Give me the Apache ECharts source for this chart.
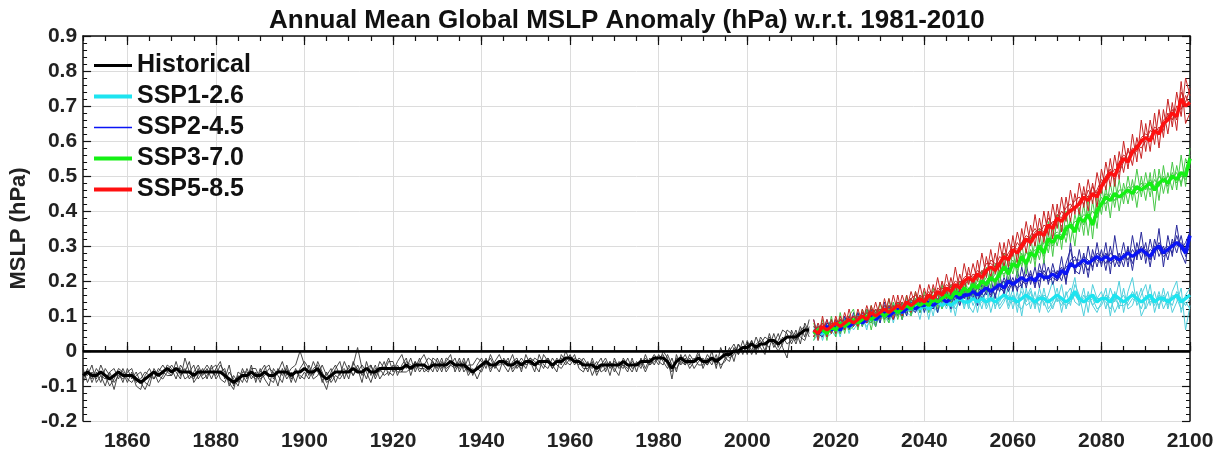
<!DOCTYPE html>
<html>
<head>
<meta charset="utf-8">
<title>Annual Mean Global MSLP Anomaly</title>
<script src="https://cdn.jsdelivr.net/npm/echarts@6/dist/echarts.min.js"></script>
<style>
  html, body { margin: 0; padding: 0; background: #fff; }
  #chart { width: 1225px; height: 457px; }
</style>
</head>
<body>
<div id="chart"></div>
<script>
// all values below are in hundredths of hPa (divided by 100 when plotted)
const HIST_START = 1850;
const SSP_START = 2015;

const xLabelYears = [1860, 1880, 1900, 1920, 1940, 1960, 1980, 2000, 2020, 2040, 2060, 2080, 2100];

// Historical ensemble mean, 1850-2014
const histMean = [
  -7,-6,-7,-7,-6,-7,-8,-7,-6,-7,
  -7,-7,-8,-9,-8,-7,-6,-7,-6,-5,
  -6,-5,-6,-6,-6,-7,-6,-6,-6,-6,
  -6,-6,-7,-8,-9,-8,-7,-7,-6,-7,
  -7,-6,-7,-7,-6,-6,-6,-7,-6,-6,
  -5,-6,-6,-5,-7,-8,-7,-6,-6,-6,
  -6,-5,-6,-6,-5,-6,-6,-5,-5,-5,
  -5,-5,-5,-4,-5,-4,-4,-4,-5,-4,
  -4,-4,-4,-3,-4,-4,-4,-5,-6,-5,
  -4,-3,-4,-4,-3,-3,-4,-4,-3,-4,
  -3,-3,-4,-3,-3,-3,-4,-3,-3,-2,
  -2,-3,-3,-4,-4,-4,-5,-4,-4,-4,
  -4,-4,-3,-4,-4,-4,-3,-3,-3,-2,
  -2,-2,-3,-5,-3,-2,-3,-3,-3,-2,
  -3,-3,-2,-3,-2,-1,-1,0,0,1,
  1,2,1,2,2,3,3,2,3,4,
  4,4,5,6,6
];

// Historical individual members
const histMembers = [
  [
    -5,-9,-6,-8,-4,-7,-10,-8,-5,-6,
    -9,-6,-10,-11,-7,-5,-8,-6,-4,-6,
    -7,-3,-7,-5,-8,-6,-4,-7,-5,-8,
    -5,-3,-8,-4,-10,-7,-9,-5,-8,-6,
    -9,-5,-4,-8,-6,-3,-7,-5,-4,0,
    -4,-7,-3,-6,-8,-11,-6,-4,-7,-3,
    -6,-4,1,-5,-8,-4,-7,-3,-5,-2,
    -6,-3,-1,-5,-2,-6,-3,-1,-4,-6,
    -2,-5,-3,-1,-6,-3,-5,-2,-7,-4,
    -2,-5,-1,-4,-6,-2,-4,-1,-5,-3,
    -5,-2,-4,-6,-1,-3,-5,-2,-4,0,
    -3,-1,-5,-6,-3,-7,-4,-2,-6,-3,
    -5,-7,-2,-4,-6,-3,-5,-1,-4,-2,
    -4,0,-2,-8,-1,-4,-2,-5,-3,0,
    -5,-2,-4,-1,-5,-2,1,-3,2,-1,
    3,0,4,1,-1,4,2,5,1,-2,
    6,3,7,4,9
  ],
  [
    -8,-5,-9,-6,-9,-5,-7,-11,-6,-9,
    -5,-8,-6,-9,-11,-8,-6,-9,-7,-4,
    -5,-8,-4,-6,-3,-9,-7,-5,-8,-4,
    -8,-6,-5,-10,-7,-9,-5,-8,-4,-9,
    -5,-8,-10,-5,-7,-9,-4,-8,-6,-7,
    -8,-4,-7,-3,-6,-9,-8,-5,-3,-8,
    -4,-7,-5,-9,-3,-7,-4,-8,-6,-3,
    -3,-7,-4,-2,-7,-3,-6,-4,-2,-3,
    -6,-3,-5,-4,-2,-6,-3,-7,-5,-8,
    -5,-2,-6,-3,-1,-4,-6,-3,-2,-6,
    -1,-4,-2,-3,-5,-2,-4,-6,-1,-3,
    -1,-4,-2,-3,-6,-2,-6,-5,-3,-7,
    -2,-5,-4,-6,-2,-6,-2,-5,-2,-4,
    -1,-3,-5,-2,-6,-1,-4,-2,-5,-3,
    -2,-4,0,-5,1,-2,-3,1,-1,3,
    -1,3,0,4,2,1,5,1,4,2,
    3,6,2,8,5
  ],
  [
    -6,-7,-4,-9,-7,-8,-6,-5,-8,-5,
    -8,-9,-7,-6,-9,-10,-5,-7,-8,-6,
    -4,-6,-8,-2,-6,-4,-8,-6,-4,-6,
    -7,-4,-6,-9,-11,-6,-7,-9,-5,-5,
    -8,-7,-5,-6,-10,-5,-8,-6,-9,-5,
    -3,-5,-8,-7,-4,-7,-5,-9,-6,-5,
    -8,-3,-6,-4,-6,-9,-5,-6,-3,-7,
    -4,-6,-6,-3,-4,-5,-2,-6,-5,-3,
    -5,-2,-6,-4,-5,-2,-6,-4,-4,-2,
    -3,-4,-2,-5,-3,-4,-2,-6,-4,-2,
    -4,-3,-6,-1,-4,-5,-2,-4,-5,-3,
    -4,-2,-3,-5,-5,-3,-7,-4,-2,-5,
    -3,-4,-5,-2,-5,-4,-3,-6,-3,-1,
    -3,-4,-1,-4,-5,-3,-1,-4,-2,-4,
    -4,-1,-3,-2,-4,-3,0,2,-1,1,
    2,-1,2,3,0,5,1,3,6,5,
    2,5,4,3,7
  ],
  [
    -9,-6,-8,-5,-7,-10,-6,-9,-7,-8,
    -6,-5,-9,-8,-6,-7,-8,-5,-6,-7,
    -7,-5,-5,-8,-7,-8,-5,-8,-7,-5,
    -4,-8,-9,-6,-8,-10,-6,-6,-7,-8,
    -6,-4,-8,-9,-5,-7,-5,-9,-5,-8,
    -6,-8,-5,-4,-9,-6,-9,-7,-8,-6,
    -5,-7,-4,-7,-5,-4,-8,-5,-7,-6,
    -7,-4,-6,-6,-5,-3,-5,-5,-6,-2,
    -3,-6,-2,-3,-4,-5,-2,-6,-6,-5,
    -6,-3,-5,-4,-4,-3,-3,-5,-4,-5,
    -3,-2,-3,-4,-3,-2,-5,-3,-2,-4,
    -2,-3,-4,-2,-4,-5,-3,-6,-5,-3,
    -6,-3,-4,-5,-3,-4,-4,-2,-4,-3,
    -2,-1,-4,-6,-2,-3,-4,-1,-3,-1,
    -3,-4,-2,-4,-2,0,-2,-1,2,0,
    1,3,-1,2,4,3,2,0,2,6,
    5,2,6,7,4
  ]
];

// SSP1-2.6, 2015-2100
const ssp126Mean = [
  5,6,5,6,7, 6,7,8,7,8, 9,8,9,10,9, 10,11,10,11,12, 11,12,12,13,12,
  13,12,13,14,13, 14,13,14,15,14, 14,15,14,15,14, 15,14,15,16,15,
  15,14,15,16,15, 14,15,15,14,15, 16,15,14,15,17, 15,14,15,16,14,
  15,15,14,16,15, 14,15,16,15,14, 15,16,14,15,15, 14,15,16,14,15,
  16
];
const ssp126Members = [
  [4,8,3,7,9, 5,9,6,10,7, 11,7,12,8,11, 8,13,9,14,10, 14,10,15,11,16,
   11,15,10,17,12, 16,11,18,13,17, 12,18,11,17,13, 19,12,17,20,13,
   18,11,19,14,17, 12,18,13,16,20, 14,19,12,16,21, 13,18,11,19,15,
   17,12,18,14,20, 11,17,21,13,16, 19,13,17,12,18, 12,17,20,11,16, 18],
  [7,3,6,4,5, 8,4,10,5,9, 7,10,6,12,8, 12,9,13,8,14, 9,15,10,14,9,
   15,9,16,11,15, 12,16,10,17,12, 17,13,16,12,18, 11,16,12,14,18,
   12,17,10,18,12, 17,11,18,12,14, 18,11,17,13,19, 16,10,17,13,11,
   14,18,10,17,12, 18,12,13,17,10, 13,19,11,16,14, 17,11,14,18,6, 13],
  [6,7,4,8,6, 4,8,9,6,10, 10,8,11,9,7, 11,10,8,12,11, 10,13,11,12,14,
   12,14,13,11,16, 13,15,12,14,16, 13,11,15,17,12, 15,13,14,17,12,
   16,13,12,15,18, 13,16,14,11,13, 15,13,16,18,14, 13,16,14,15,12,
   13,16,15,11,14, 16,13,15,14,18, 12,15,13,17,12, 15,13,17,15,13, 15],
  [3,5,6,5,8, 7,5,7,9,6, 8,9,7,9,12, 9,12,11,10,13, 12,11,10,14,11,
   14,11,14,15,12, 15,12,13,16,13, 15,16,13,14,15, 14,16,13,15,16,
   14,15,17,13,14, 15,13,16,15,12, 16,14,13,14,16, 14,15,16,13,15,
   15,14,12,15,13, 13,14,17,15,12, 16,14,15,13,16, 13,16,15,12,14, 12]
];

// SSP2-4.5, 2015-2100
const ssp245Mean = [
  6,5,6,7,6, 7,6,8,7,8, 9,8,9,10,9, 10,11,10,11,12, 11,12,13,12,13,
  13,14,13,14,15, 14,15,16,15,16, 16,17,16,17,18, 17,18,19,18,20,
  19,20,21,20,21, 20,22,21,21,22, 21,23,22,25,24, 25,26,25,26,27,
  26,27,26,27,26, 27,28,27,28,29, 28,27,29,30,28, 29,30,31,30,28,
  33
];
const ssp245Members = [
  [9,4,7,6,9, 5,9,6,10,7, 11,7,12,9,12, 8,14,9,13,10, 14,10,15,12,16,
   11,16,12,17,13, 17,12,19,14,18, 14,20,13,19,16, 21,15,22,16,24,
   17,23,18,25,19, 24,18,26,19,25, 20,27,19,31,22, 29,22,30,23,31,
   24,31,22,33,25, 31,24,33,26,34, 25,32,26,35,24, 33,27,36,28,25, 35],
  [4,7,5,9,5, 9,5,10,6,11, 7,11,8,12,7, 12,9,13,10,14, 9,14,11,15,11,
   15,12,16,11,17, 13,17,14,18,15, 18,15,19,16,20, 15,20,17,21,18,
   21,17,24,18,23, 18,25,20,24,19, 23,20,25,29,23, 22,28,21,29,24,
   29,23,30,24,28, 24,30,23,31,26, 31,24,32,27,30, 26,32,28,33,27, 30],
  [7,6,8,5,6, 6,8,7,9,9, 8,10,9,8,11, 10,12,11,9,12, 12,11,14,13,12,
   14,13,12,15,14, 16,14,15,17,15, 17,16,18,15,17, 18,16,19,20,17,
   20,18,19,22,20, 21,20,23,21,23, 22,24,20,26,27, 24,27,26,24,28,
   27,25,28,27,24, 28,26,29,27,30, 27,29,28,31,29, 30,28,33,29,31, 34],
  [5,5,4,8,7, 8,6,9,8,7, 10,9,8,11,9, 11,10,9,13,11, 10,13,12,11,14,
   12,15,14,13,16, 13,16,17,13,17, 15,18,14,18,19, 16,19,18,17,21,
   18,21,20,19,22, 19,23,22,20,21, 20,22,24,25,26, 26,25,23,27,26,
   25,28,25,26,27, 26,29,25,29,28, 29,26,30,29,27, 28,31,30,31,29, 32]
];

// SSP3-7.0, 2015-2100
const ssp370Mean = [
  5,6,6,5,7, 6,8,7,8,9, 8,9,10,9,10, 11,10,11,12,11, 12,13,12,14,13,
  14,13,15,14,15, 16,15,17,16,18, 17,19,18,20,19, 21,20,22,24,22,
  25,24,27,25,28, 27,30,28,32,31, 33,32,35,36,34, 38,37,39,36,40,
  42,44,43,45,44, 45,46,45,47,46, 47,48,46,48,49, 48,50,49,51,50,
  55
];
const ssp370Members = [
  [8,4,9,3,10, 4,11,5,10,12, 6,12,8,13,7, 14,8,15,10,14, 9,16,10,17,11,
   17,11,18,12,19, 13,19,15,20,16, 21,16,22,17,24, 18,25,19,28,20,
   29,21,31,22,33, 24,35,25,37,27, 39,29,40,31,39, 34,42,33,43,35,
   47,40,48,41,49, 42,50,43,52,44, 51,44,52,43,53, 45,54,46,56,47, 58],
  [3,7,5,7,5, 8,5,9,6,7, 10,7,12,6,12, 9,12,8,14,9, 14,11,15,12,16,
   12,16,13,17,12, 18,13,19,14,20, 15,21,16,23,17, 24,18,25,21,26,
   22,28,24,29,25, 31,26,33,28,35, 30,36,31,38,30, 41,33,44,32,45,
   39,47,38,49,40, 48,42,49,41,50, 43,51,40,52,45, 51,46,53,47,55, 52],
  [6,5,7,6,8, 5,9,8,7,10, 9,8,11,10,9, 12,11,10,13,12, 11,14,13,12,15,
   15,14,13,16,14, 17,16,18,15,19, 18,17,20,19,21, 20,22,21,25,23,
   24,26,25,28,27, 29,28,31,30,33, 34,33,36,35,37, 37,39,38,40,38,
   42,45,44,43,46, 46,45,47,46,48, 46,49,47,50,48, 50,49,51,48,52, 56],
  [4,6,7,5,6, 7,7,6,9,8, 7,10,9,8,11, 10,9,12,11,10, 13,12,11,15,12,
   13,15,16,13,16, 15,17,16,18,17, 16,20,19,18,20, 22,19,23,22,24,
   26,23,28,24,29, 26,31,27,33,30, 32,35,33,37,35, 39,36,40,37,41,
   44,42,45,43,44, 44,47,46,45,47, 48,46,49,47,50, 47,51,48,50,49, 54]
];

// SSP5-8.5, 2015-2100
const ssp585Mean = [
  6,5,7,6,7, 8,7,8,9,8, 9,10,9,11,10, 11,12,11,12,13, 12,14,13,14,15,
  14,16,15,17,16, 18,17,19,18,20, 21,20,22,21,23, 24,23,25,27,26,
  29,28,30,32,31, 33,34,33,36,35, 38,37,39,40,41, 42,44,43,45,44,
  47,49,51,50,53, 55,54,57,58,60, 61,60,63,62,65, 66,68,67,72,70,
  71
];
const ssp585Members = [
  [9,3,10,4,9, 5,10,6,12,7, 12,8,13,9,14, 9,15,10,16,11, 16,12,17,13,19,
   13,19,14,21,15, 22,16,24,17,25, 19,25,20,28,21, 29,22,31,24,32,
   27,34,29,37,30, 39,31,40,33,42, 35,44,37,46,39, 48,41,49,42,51,
   45,54,47,56,49, 60,52,62,54,66, 57,66,59,69,61, 72,64,74,67,78, 73],
  [4,8,5,9,5, 10,6,11,7,10, 7,12,8,13,9, 14,10,15,9,16, 10,16,11,17,13,
   18,13,19,14,20, 15,21,16,22,17, 24,18,26,19,27, 21,28,22,31,24,
   33,25,35,28,36, 30,38,31,40,32, 42,34,44,37,45, 39,47,40,48,41,
   52,46,55,47,57, 51,58,53,61,55, 65,57,68,58,69, 62,71,63,77,65, 68],
  [7,6,8,5,8, 7,9,8,8,10, 9,11,10,12,11, 12,11,13,12,14, 13,14,15,13,16,
   15,17,14,18,17, 19,18,20,19,21, 22,21,23,22,25, 25,24,27,26,28,
   30,29,31,33,32, 34,35,34,38,36, 39,38,41,42,40, 43,45,44,47,45,
   48,50,52,49,54, 56,55,58,57,61, 62,61,64,63,66, 67,69,66,74,71, 75],
  [5,7,6,7,6, 9,8,7,10,9, 10,9,11,10,12, 10,13,12,13,12, 14,13,15,16,14,
   16,15,17,16,18, 17,19,18,20,19, 20,22,21,23,22, 26,25,24,28,27,
   28,31,29,31,33, 35,33,36,35,37, 37,40,38,41,43, 44,42,46,44,46,
   49,48,50,52,51, 54,57,56,59,58, 60,63,62,64,63, 68,66,70,69,73, 70]
];

const FONT = 'Liberation Sans, Arial, Helvetica, sans-serif';

function toPairs(arr, start) {
  return arr.map((v, i) => [start + i, v / 100]);
}

const scenarios = [
  { name: 'SSP1-2.6', mean: ssp126Mean, members: ssp126Members, color: '#1de4f0', memberColor: '#50cfdc', legendWidth: 4 },
  { name: 'SSP2-4.5', mean: ssp245Mean, members: ssp245Members, color: '#0a14f5', memberColor: '#2a2a9c', legendWidth: 1.5 },
  { name: 'SSP3-7.0', mean: ssp370Mean, members: ssp370Members, color: '#14f014', memberColor: '#48c848', legendWidth: 4 },
  { name: 'SSP5-8.5', mean: ssp585Mean, members: ssp585Members, color: '#ff1010', memberColor: '#c82424', legendWidth: 4 }
];

const series = [];

histMembers.forEach((m, k) => {
  series.push({
    name: 'Historical member ' + (k + 1), type: 'line', symbol: 'none', silent: true,
    data: toPairs(m, HIST_START),
    lineStyle: { color: '#333', width: 0.9 }, z: 2
  });
});
series.push({
  name: 'Historical', type: 'line', symbol: 'none', silent: true,
  data: toPairs(histMean, HIST_START),
  color: '#000',
  lineStyle: { color: '#000', width: 3 }, z: 3,
  markLine: {
    silent: true, symbol: 'none', label: { show: false },
    lineStyle: { color: '#000', width: 2.5, type: 'solid' },
    data: [{ yAxis: 0 }]
  }
});

scenarios.forEach(s => {
  s.members.forEach((m, k) => {
    series.push({
      name: s.name + ' member ' + (k + 1), type: 'line', symbol: 'none', silent: true,
      data: toPairs(m, SSP_START),
      lineStyle: { color: s.memberColor, width: 1 }, z: 2
    });
  });
});
scenarios.forEach(s => {
  series.push({
    name: s.name, type: 'line', symbol: 'none', silent: true,
    data: toPairs(s.mean, SSP_START),
    color: s.color,
    lineStyle: { color: s.color, width: 3.5 }, z: 4
  });
});

const minorYears = [];
for (let y = 1850; y <= 2100; y += 5) minorYears.push(y);

const labelStyle = { fontFamily: FONT, fontWeight: 'bold', fontSize: 21, color: '#222' };

function xAxisDef(pos, major) {
  return {
    type: 'value', position: pos, min: 1850, max: 2100,
    axisLine: { show: major, lineStyle: { color: '#111', width: 1.5 } },
    axisTick: { show: true, inside: true, length: major ? 9 : 5, customValues: major ? xLabelYears : minorYears,
                lineStyle: { color: '#111', width: 1.2 } },
    axisLabel: (major && pos === 'bottom')
      ? Object.assign({ show: true, customValues: xLabelYears, margin: 10, formatter: v => String(v) }, labelStyle)
      : { show: false },
    splitLine: { show: major && pos === 'bottom', lineStyle: { color: '#dcdcdc', width: 1 } }
  };
}

function yAxisDef(pos) {
  return {
    type: 'value', position: pos, min: -0.2, max: 0.9, interval: 0.1,
    axisLine: { show: true, lineStyle: { color: '#111', width: 1.5 } },
    axisTick: { show: true, inside: true, length: 8, lineStyle: { color: '#111', width: 1.2 } },
    minorTick: { show: true, splitNumber: 5, length: 4, lineStyle: { color: '#111', width: 1 } },
    axisLabel: pos === 'left' ? Object.assign({ show: true, margin: 6 }, labelStyle) : { show: false },
    splitLine: { show: pos === 'left', lineStyle: { color: '#dcdcdc', width: 1 } },
    name: pos === 'left' ? 'MSLP (hPa)' : '',
    nameLocation: 'middle', nameGap: 48,
    nameTextStyle: { fontFamily: FONT, fontWeight: 'bold', fontSize: 22, color: '#222' }
  };
}

const chart = echarts.init(document.getElementById('chart'), null, { renderer: 'canvas' });
chart.setOption({
  animation: false,
  backgroundColor: '#fff',
  title: {
    text: 'Annual Mean Global MSLP Anomaly (hPa) w.r.t. 1981-2010',
    left: 264, top: 3,
    textStyle: { fontFamily: FONT, fontWeight: 'bold', fontSize: 26, color: '#111' }
  },
  grid: { left: 81, right: 35, top: 36, bottom: 36, containLabel: false },
  legend: {
    orient: 'vertical', left: 92, top: 53, padding: 0,
    itemWidth: 38, itemHeight: 14, itemGap: 6,
    selectedMode: false,
    itemStyle: { opacity: 0 },
    textStyle: { fontFamily: FONT, fontWeight: 'bold', fontSize: 25, color: '#111' },
    data: [
      { name: 'Historical', lineStyle: { width: 3 } },
      { name: 'SSP1-2.6', lineStyle: { width: 4 } },
      { name: 'SSP2-4.5', lineStyle: { width: 1.5 } },
      { name: 'SSP3-7.0', lineStyle: { width: 4 } },
      { name: 'SSP5-8.5', lineStyle: { width: 4 } }
    ]
  },
  xAxis: [xAxisDef('bottom', true), xAxisDef('bottom', false), xAxisDef('top', true), xAxisDef('top', false)],
  yAxis: [yAxisDef('left'), yAxisDef('right')],
  series: series
});
</script>
</body>
</html>
